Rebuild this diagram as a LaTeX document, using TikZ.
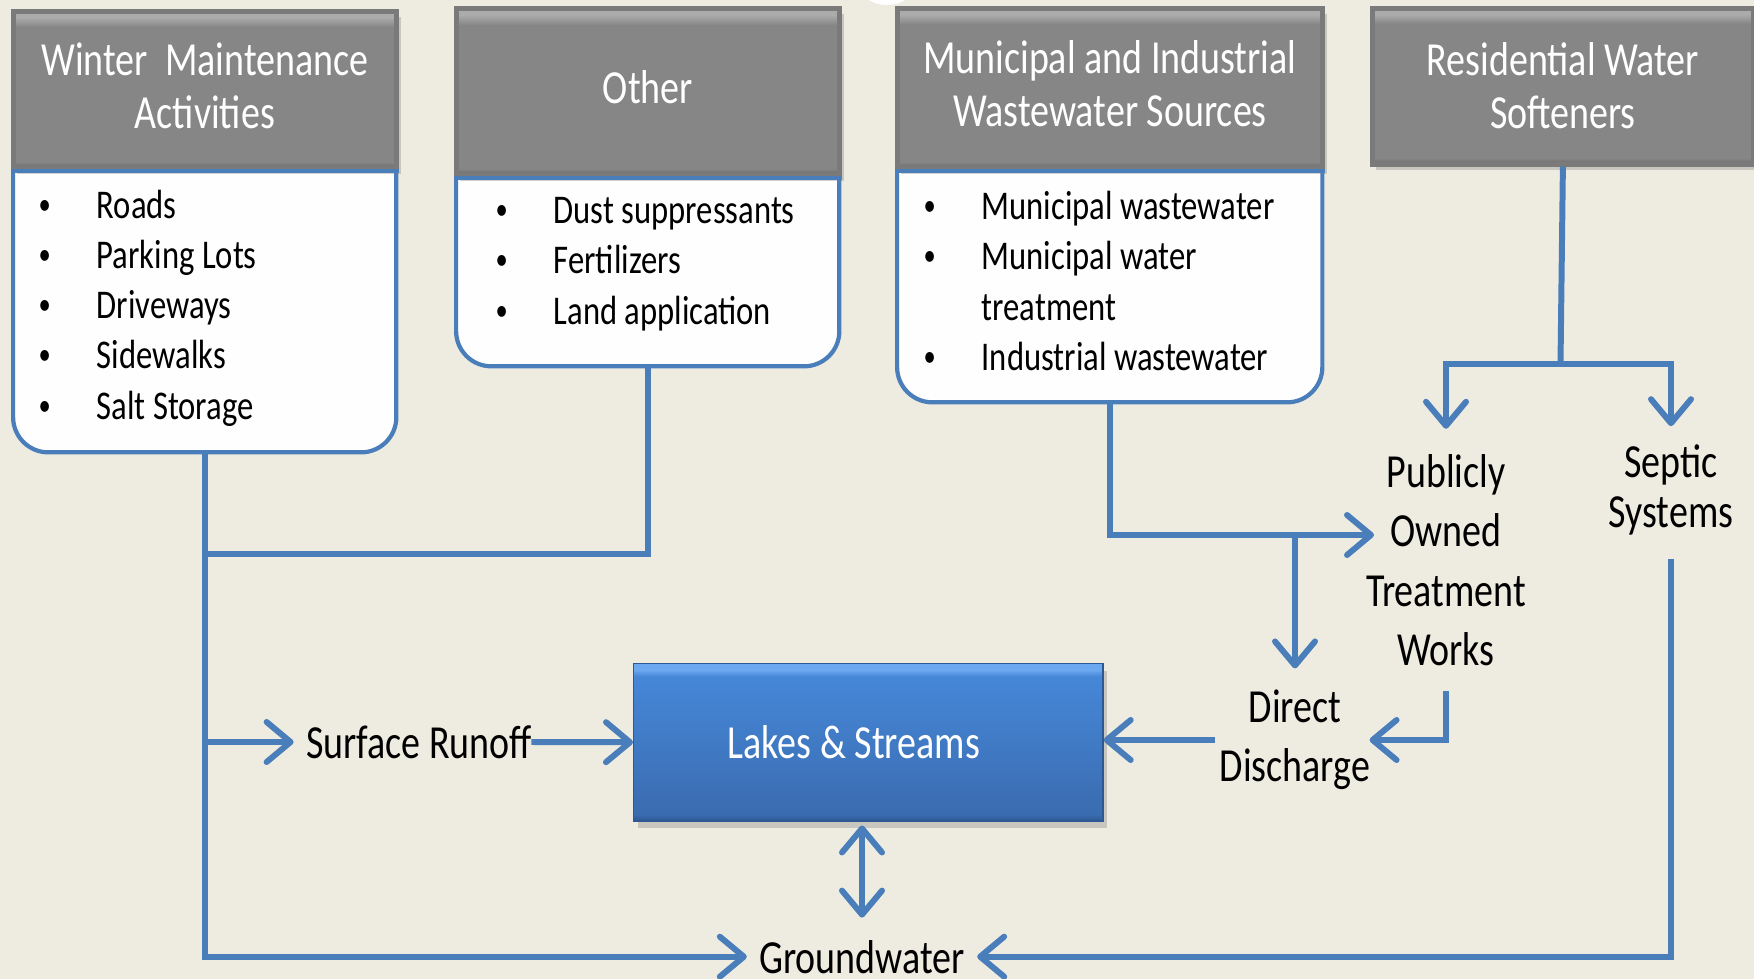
\documentclass[tikz,border=0pt]{standalone}
\usepackage{fontspec}
\usepackage{graphicx}
\setmainfont{Carlito}[FakeStretch=0.80]
\usetikzlibrary{arrows.meta,shadows}

\definecolor{bgtan}{HTML}{EEECE1}
\definecolor{flowblue}{HTML}{4A7EBB}
\definecolor{hdtop}{HTML}{ABABAB}
\definecolor{hdmid}{HTML}{868686}
\definecolor{hdbot}{HTML}{666666}
\definecolor{hdedge}{HTML}{7A7A7A}
\definecolor{lakehi}{HTML}{6CA8EF}
\definecolor{laketop}{HTML}{4687D8}
\definecolor{lakebot}{HTML}{3A6CB0}
\definecolor{lakeedge}{HTML}{2D5893}

\pgfdeclareverticalshading{hdshade}{100bp}{color(0bp)=(hdbot); color(25bp)=(hdbot);
  color(27bp)=(hdmid); color(70bp)=(hdmid); color(73bp)=(hdtop); color(75bp)=(hdtop); color(100bp)=(hdtop)}
\pgfdeclareverticalshading{lakeshade}{100bp}{color(0bp)=(lakeedge); color(25bp)=(lakeedge);
  color(27bp)=(lakebot); color(71bp)=(laketop); color(73bp)=(lakehi); color(75bp)=(lakehi); color(100bp)=(lakehi)}

\newcommand{\itm}[1]{\makebox[0.58cm][l]{\raisebox{0.1em}{\scalebox{0.75}{\textbullet}}}#1}

\tikzset{
  hdr/.style={draw=hdedge,line width=1.3pt,shade,shading=hdshade,
    text=white,anchor=north west,inner sep=0pt,align=center,text depth=0.9mm,
    font=\fontsize{13.5}{15}\selectfont,
    drop shadow={opacity=0.35,shadow xshift=0.4mm,shadow yshift=-0.6mm}},
  lst/.style={draw=flowblue,line width=1.2pt,fill=white!97!bgtan,
    rounded corners=10pt,anchor=north west,inner sep=0pt},
  lsttop/.style={draw=flowblue,line width=1.2pt},
  items/.style={anchor=west,align=left,inner sep=0pt,font=\fontsize{11.6}{14.3}\selectfont},
  lbl/.style={align=center,font=\fontsize{13.5}{16.9}\selectfont},
  lake/.style={shade,shading=lakeshade,draw=lakeedge,text=white,
    anchor=north west,font=\fontsize{13.5}{15}\selectfont,
    drop shadow={opacity=0.35,shadow xshift=0.4mm,shadow yshift=-0.7mm}},
  pipe/.style={draw=flowblue,line width=1.7pt},
  flow/.style={pipe,-{Straight Barb[length=2.4mm,width=4mm,round]}},
  flowboth/.style={pipe,{Straight Barb[length=2.4mm,width=4mm,round]}-{Straight Barb[length=2.4mm,width=4mm,round]}}
}

\begin{document}
\begin{tikzpicture}[x=0.01cm,y=-0.01cm]
  \path[use as bounding box,fill=bgtan] (0,0) rectangle (1754,979);
  \fill[white] (887,-20) ellipse [x radius=3mm,y radius=2.5mm];

  % source boxes
  \node[lst,minimum width=3.83cm,minimum height=4.10cm] (winterlist) at (11,40) {};
  \node[hdr,minimum width=3.83cm,minimum height=1.57cm] (winter) at (11,9) {Winter\ \ Maintenance\\Activities};
  \draw[lsttop] (winter.south west) -- (winter.south east);
  \node[items] (winteritems) at (38,308) {\itm{Roads}\\\itm{Parking Lots}\\\itm{Driveways}\\\itm{Sidewalks}\\\itm{Salt Storage}};

  \node[lst,minimum width=3.83cm,minimum height=3.24cm] (otherlist) at (454,40) {};
  \node[hdr,minimum width=3.83cm,minimum height=1.67cm] (other) at (454,6) {Other};
  \draw[lsttop] (other.south west) -- (other.south east);
  \node[items] (otheritems) at (495,264) {\itm{Dust suppressants}\\\itm{Fertilizers}\\\itm{Land application}};

  \node[lst,minimum width=4.25cm,minimum height=3.60cm] (munilist) at (895,40) {};
  \node[hdr,minimum width=4.25cm,minimum height=1.60cm] (muni) at (895,6) {Municipal and Industrial\\Wastewater Sources};
  \draw[lsttop] (muni.south west) -- (muni.south east);
  \node[items] (muniitems) at (923,281) {\itm{Municipal wastewater}\\\itm{Municipal water}\\\hspace*{0.58cm}treatment\\\itm{Industrial wastewater}};

  \node[hdr,minimum width=3.81cm,minimum height=1.56cm,text depth=0.2mm] (resid) at (1370,6) {Residential Water\\Softeners};

  % receivers
  \node[lake,minimum width=4.69cm,minimum height=1.57cm] (lakes) at (633,663) {Lakes \& Streams\hspace*{2.9mm}};
  \node[lbl] (runoff) at (419,742) {Surface Runoff};
  \node[lbl,anchor=base] (gw) at (862,973) {Groundwater};
  \node[lbl] (direct) at (1295,740) {Direct\\Discharge};
  \node[lbl] (potw) at (1446,560) {Publicly\\Owned\\Treatment\\Works};
  \node[lbl,font=\fontsize{13.5}{14.3}\selectfont] (septic) at (1671,490) {Septic\\Systems};

  \coordinate (otherjoin) at (202.5,554);
  \coordinate (potwin) at (1374,535);
  \coordinate (split) at (1295,535);
  \coordinate (resjoin) at (1560.5,364);

  % connectors
  \draw[pipe] (otherlist.south) |- (otherjoin);
  \draw[flow] (winterlist.south) |- (gw.west);
  \draw[flow] (winterlist.south |- runoff.west) -- (runoff.west);
  \draw[flow] ([xshift=-1.3mm]runoff.east) -- (lakes.west);
  \draw[flowboth,shorten <=0.4mm,shorten >=1mm] (lakes.south -| gw.north) -- (gw.north);
  \draw[flow] (munilist.south) |- (potwin);
  \draw[flow] (split) -- ([yshift=0.9mm]direct.north);
  \draw[flow] ([xshift=0.8mm]direct.west) -- (lakes.east |- direct.west);
  \draw[flow] ([yshift=-1.3mm]potw.south) |- ([xshift=-1.3mm]direct.east);
  \draw[pipe] (resid.south) -- (resjoin);
  \draw[flow] (resjoin) -| ([yshift=1.3mm]potw.north);
  \draw[flow] (resjoin) -| ([yshift=0.6mm]septic.north);
  \draw[flow] ([yshift=-1.1mm]septic.south) |- (gw.east);
\end{tikzpicture}
\end{document}
